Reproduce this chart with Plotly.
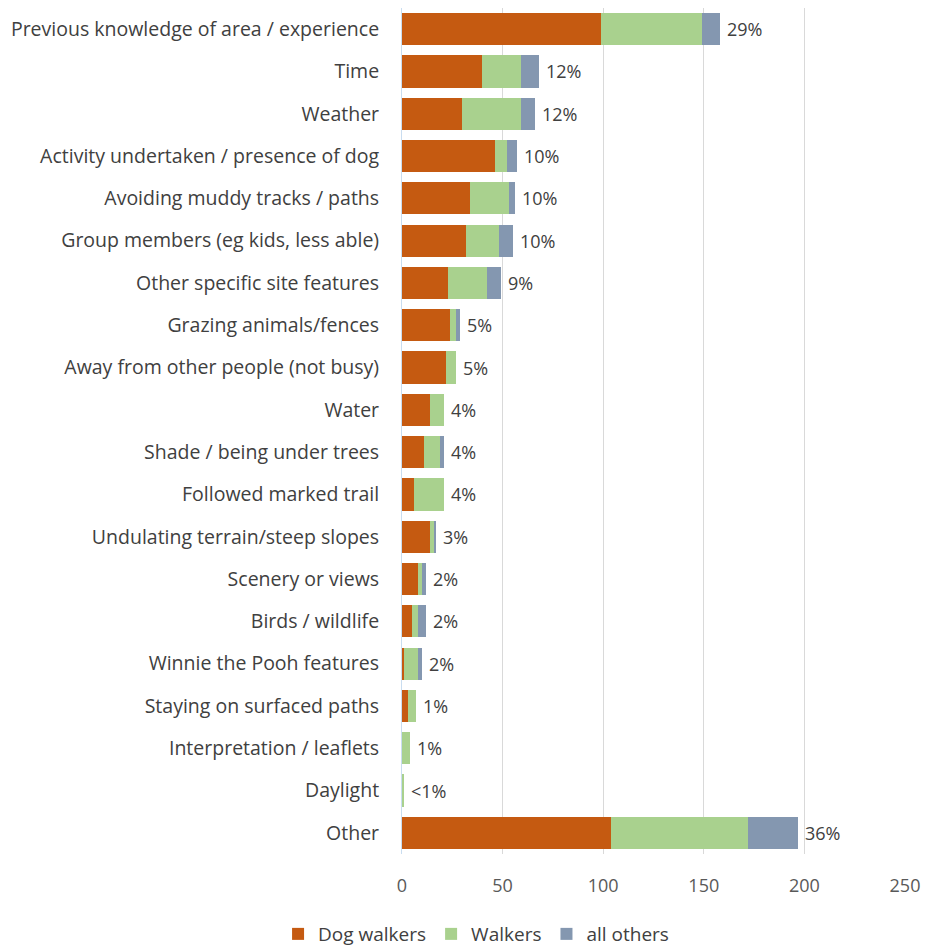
import plotly.graph_objects as go

categories = [
    "Previous knowledge of area / experience",
    "Time",
    "Weather",
    "Activity undertaken / presence of dog",
    "Avoiding muddy tracks / paths",
    "Group members (eg kids, less able)",
    "Other specific site features",
    "Grazing animals/fences",
    "Away from other people (not busy)",
    "Water",
    "Shade / being under trees",
    "Followed marked trail",
    "Undulating terrain/steep slopes",
    "Scenery or views",
    "Birds / wildlife",
    "Winnie the Pooh features",
    "Staying on surfaced paths",
    "Interpretation / leaflets",
    "Daylight",
    "Other",
]
dog_walkers = [99, 40, 30, 46, 34, 32, 23, 24, 22, 14, 11, 6, 14, 8, 5, 1, 3, 0, 0, 104]
walkers =     [50, 19, 29, 6, 19, 16, 19, 3, 5, 7, 8, 15, 2, 2, 3, 7, 4, 4, 1, 68]
all_others =  [9, 9, 7, 5, 3, 7, 7, 2, 0, 0, 2, 0, 1, 2, 4, 2, 0, 0, 0, 25]
pct_labels = ["29%", "12%", "12%", "10%", "10%", "10%", "9%", "5%", "5%", "4%",
              "4%", "4%", "3%", "2%", "2%", "2%", "1%", "1%", "<1%", "36%"]
x_ticks = [0, 50, 100, 150, 200, 250]

FONT = "Open Sans"
TXT = "#404040"

fig = go.Figure()
for name, vals, col in [("Dog walkers", dog_walkers, "#C55A11"),
                        ("Walkers", walkers, "#A9D18E"),
                        ("all others", all_others, "#8497B0")]:
    fig.add_trace(go.Bar(y=categories, x=vals, name=name, orientation="h",
                         marker=dict(color=col, line=dict(width=0))))

totals = [a + b + c for a, b, c in zip(dog_walkers, walkers, all_others)]
for cat, tot, lab in zip(categories, totals, pct_labels):
    fig.add_annotation(x=tot, y=cat, text=lab, showarrow=False, xanchor="left",
                       xshift=5, font=dict(family=FONT, size=18, color=TXT))

fig.update_layout(
    barmode="stack",
    bargap=0.24,
    width=928, height=947,
    margin=dict(l=402, r=16, t=8, b=93),
    plot_bgcolor="white", paper_bgcolor="white",
    font=dict(family=FONT, size=17, color=TXT),
    xaxis=dict(range=[0, 250], tickvals=x_ticks, showgrid=True, gridcolor="#D9D9D9",
               gridwidth=1, zeroline=False, showline=False,
               ticklabelstandoff=19, ticklabeloverflow="allow",
               tickfont=dict(size=18, color="#595959")),
    yaxis=dict(autorange="reversed", showgrid=False, zeroline=False,
               showline=True, linecolor="#C9DDF0", linewidth=1,
               ticklabelstandoff=18, automargin=False,
               tickfont=dict(size=19.5, color=TXT)),
    legend=dict(orientation="h", xref="container", yref="container",
                x=0.513, xanchor="center", y=0.0137, yanchor="middle",
                font=dict(size=19, color=TXT), traceorder="normal",
                itemwidth=30),
    showlegend=True,
)

fig.write_html("out.html", config={"displayModeBar": False},
               post_script="document.body.style.margin='0';document.body.style.overflow='hidden';")
